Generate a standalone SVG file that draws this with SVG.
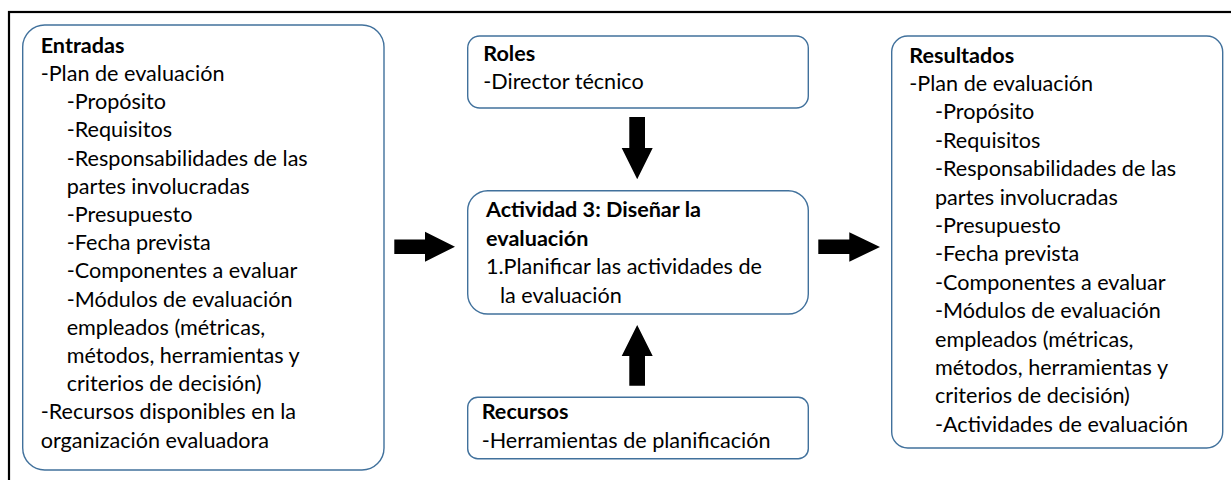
<svg xmlns="http://www.w3.org/2000/svg" width="1231" height="480" viewBox="0 0 1231 480">
<style>
.box{fill:#fff;stroke:#41719C;stroke-width:1.4}
text{font-family:Lato,"Noto Sans",sans-serif;font-size:21.6px;fill:#000}
.b{font-weight:bold}
.arrow{fill:#000}
</style>
<rect x="0" y="0" width="1231" height="480" fill="#fff"/>
<rect x="9" y="12" width="1250" height="500" fill="none" stroke="#000" stroke-width="2.2"/>
<g id="entradas">
<rect class="box" x="22.7" y="25" width="361.3" height="445" rx="22" ry="22"/>
<text class="b" x="40.7" y="52.7">Entradas</text>
<text x="40.7" y="81">-Plan de evaluación</text>
<text x="66.7" y="109.2">-Propósito</text>
<text x="66.7" y="137.4">-Requisitos</text>
<text x="66.7" y="165.6">-Responsabilidades de las</text>
<text x="66.7" y="193.8">partes involucradas</text>
<text x="66.7" y="222">-Presupuesto</text>
<text x="66.7" y="250.2">-Fecha prevista</text>
<text x="66.7" y="278.4">-Componentes a evaluar</text>
<text x="66.7" y="306.6">-Módulos de evaluación</text>
<text x="66.7" y="334.8">empleados (métricas,</text>
<text x="66.7" y="363">métodos, herramientas y</text>
<text x="66.7" y="391.2">criterios de decisión)</text>
<text x="40.7" y="419.4">-Recursos disponibles en la</text>
<text x="40.7" y="447.6">organización evaluadora</text>
</g>
<g id="roles">
<rect class="box" x="467.7" y="36" width="340.6" height="72" rx="12" ry="12"/>
<text class="b" x="483.3" y="61">Roles</text>
<text x="483.3" y="89">-Director técnico</text>
</g>
<g id="actividad">
<rect class="box" x="467.7" y="190.7" width="340.6" height="123.3" rx="20" ry="20"/>
<text class="b" x="486" y="217.3">Actividad 3: Diseñar la</text>
<text class="b" x="486" y="246">evaluación</text>
<text x="486" y="274.3">1.Planificar las actividades de</text>
<text x="500" y="302.7">la evaluación</text>
</g>
<g id="recursos">
<rect class="box" x="467.7" y="397.3" width="340.6" height="61.4" rx="10" ry="10"/>
<text class="b" x="481.7" y="419.3">Recursos</text>
<text x="481.7" y="448.3">-Herramientas de planificación</text>
</g>
<g id="resultados">
<rect class="box" x="891.7" y="36" width="331" height="412" rx="16" ry="16"/>
<text class="b" x="909.3" y="62.7">Resultados</text>
<text x="909.3" y="91">-Plan de evaluación</text>
<text x="935" y="119.4">-Propósito</text>
<text x="935" y="147.8">-Requisitos</text>
<text x="935" y="176.2">-Responsabilidades de las</text>
<text x="935" y="204.6">partes involucradas</text>
<text x="935" y="233">-Presupuesto</text>
<text x="935" y="261.4">-Fecha prevista</text>
<text x="935" y="289.8">-Componentes a evaluar</text>
<text x="935" y="318.2">-Módulos de evaluación</text>
<text x="935" y="346.6">empleados (métricas,</text>
<text x="935" y="375">métodos, herramientas y</text>
<text x="935" y="403.4">criterios de decisión)</text>
<text x="935" y="431.8">-Actividades de evaluación</text>
</g>
<g id="connectors">
<polygon class="arrow" points="629.3,117 645,117 645,148 652.7,148 637.2,179.3 621.7,148 629.3,148"/>
<polygon class="arrow" points="637.2,325 652.7,356 645,356 645,385.7 629.3,385.7 629.3,356 621.7,356"/>
<polygon class="arrow" points="394.3,239.5 425,239.5 425,231.7 455,246.7 425,261.7 425,254 394.3,254"/>
<polygon class="arrow" points="818.3,239.5 849.3,239.5 849.3,232.3 880,247 849.3,261.7 849.3,254 818.3,254"/>
</g>
</svg>
